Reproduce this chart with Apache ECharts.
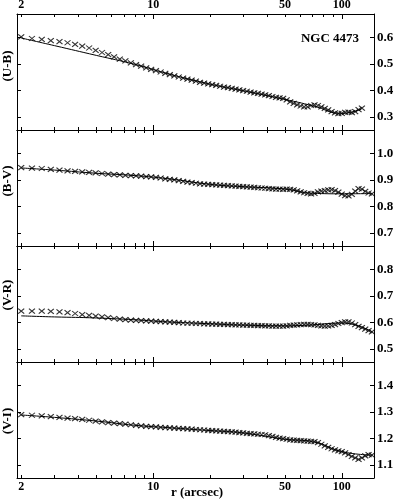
<!DOCTYPE html>
<html>
<head>
<meta charset="utf-8">
<script src="https://cdn.jsdelivr.net/npm/echarts@6/dist/echarts.min.js"></script>
<style>html,body{margin:0;padding:0;background:#fff}#c{width:397px;height:500px}</style>
</head>
<body>
<div id="c"></div>
<script>
// radii (arcsec) of the measured points
const rGrid = [2.00,2.28,2.57,2.87,3.19,3.52,3.86,4.21,4.58,4.96,5.36,5.78,6.21,6.66,7.13,7.62,8.12,8.64,9.19,9.76,
10.35,10.96,11.60,12.26,12.95,13.67,14.42,15.20,16.01,16.85,17.72,18.63,19.58,20.56,21.58,22.64,23.75,24.90,26.10,27.34,
28.63,29.98,31.38,32.84,34.35,35.92,37.56,39.26,41.03,42.87,44.78,46.77,48.84,50.99,53.23,55.56,57.98,60.50,63.12,65.84,
68.67,71.62,74.68,77.87,81.18,84.63,88.22,91.95,95.83,99.86,104.05,108.41,112.95,117.67,122.58,127.68,132.99,138.51,144.25];

const ubVals = [0.603,0.597,0.594,0.589,0.585,0.581,0.575,0.568,0.561,0.552,0.544,0.536,0.527,0.519,0.512,0.505,0.498,0.492,0.486,0.480,
0.475,0.470,0.465,0.460,0.455,0.451,0.447,0.443,0.439,0.435,0.431,0.428,0.425,0.422,0.419,0.416,0.413,0.411,0.408,0.405,
0.402,0.399,0.397,0.394,0.391,0.389,0.386,0.383,0.380,0.377,0.374,0.372,0.370,0.364,0.357,0.351,0.345,0.341,0.338,0.338,
0.343,0.345,0.343,0.338,0.332,0.326,0.320,0.315,0.312,0.313,0.317,0.318,0.316,0.320,0.327,0.333];

const bvVals = [0.947,0.945,0.944,0.941,0.938,0.935,0.933,0.931,0.929,0.927,0.925,0.923,0.921,0.920,0.918,0.917,0.916,0.915,0.913,0.912,
0.910,0.908,0.905,0.903,0.901,0.898,0.895,0.892,0.890,0.888,0.886,0.885,0.884,0.883,0.882,0.881,0.880,0.879,0.878,0.877,
0.876,0.875,0.874,0.873,0.872,0.871,0.870,0.869,0.868,0.867,0.866,0.866,0.865,0.866,0.865,0.863,0.859,0.855,0.852,0.850,
0.848,0.850,0.855,0.858,0.860,0.863,0.864,0.860,0.854,0.847,0.841,0.840,0.846,0.858,0.868,0.866,0.857,0.851,0.848];

const vrVals = [0.643,0.643,0.643,0.642,0.640,0.637,0.634,0.630,0.627,0.624,0.621,0.618,0.615,0.613,0.611,0.609,0.608,0.607,0.606,0.605,
0.604,0.603,0.602,0.601,0.600,0.599,0.598,0.597,0.597,0.596,0.596,0.595,0.595,0.594,0.594,0.593,0.593,0.592,0.592,0.591,
0.591,0.590,0.590,0.589,0.589,0.588,0.588,0.587,0.587,0.586,0.586,0.586,0.586,0.587,0.589,0.590,0.591,0.592,0.593,0.593,
0.592,0.591,0.589,0.587,0.586,0.587,0.589,0.592,0.596,0.599,0.602,0.602,0.598,0.592,0.585,0.580,0.575,0.569,0.564];

const viVals = [1.290,1.288,1.286,1.283,1.280,1.277,1.275,1.272,1.269,1.266,1.263,1.260,1.258,1.256,1.254,1.252,1.250,1.248,1.246,1.245,
1.244,1.242,1.241,1.240,1.239,1.238,1.237,1.236,1.235,1.234,1.233,1.232,1.231,1.230,1.229,1.228,1.227,1.226,1.225,1.224,
1.222,1.221,1.219,1.218,1.217,1.216,1.215,1.214,1.211,1.208,1.204,1.201,1.199,1.197,1.195,1.194,1.193,1.192,1.191,1.190,
1.189,1.188,1.184,1.178,1.172,1.166,1.161,1.157,1.153,1.150,1.145,1.139,1.132,1.126,1.121,1.126,1.134,1.139,1.137];

// fitted profile curves
const ubFitR = [2,3,5,8,12,20,30,50,70,100,127];
const ubFit  = [0.599,0.570,0.533,0.499,0.463,0.424,0.399,0.366,0.342,0.313,0.330];
const fitR   = [2,3,5,8,12,20,30,50,70,100,145];
const bvFit  = [0.946,0.938,0.926,0.917,0.905,0.884,0.875,0.866,0.850,0.848,0.849];
const vrFit  = [0.625,0.621,0.617,0.610,0.602,0.595,0.590,0.587,0.591,0.598,0.564];
const viFit  = [1.289,1.280,1.266,1.250,1.241,1.230,1.221,1.197,1.188,1.150,1.137];

const panelNames = ['(U-B)','(B-V)','(V-R)','(V-I)'];
const yRanges = [[0.25,0.69],[0.65,1.09],[0.45,0.89],[1.05,1.49]];
const yTicks = [[0.3,0.4,0.5,0.6],[0.7,0.8,0.9,1.0],[0.5,0.6,0.7,0.8],[1.1,1.2,1.3,1.4]];
const xMinorTicks = [2,3,4,5,6,7,8,9,20,30,40,50,60,70,80,90];
const xMajorTicks = [10,100];
const xTickLabels = [2,10,50,100];
const xRange = [1.9,148];
const titleText = 'NGC 4473';
const xName = 'r (arcsec)';

const dataSets = [
  {vals: ubVals, fr: ubFitR, fv: ubFit},
  {vals: bvVals, fr: fitR, fv: bvFit},
  {vals: vrVals, fr: fitR, fv: vrFit},
  {vals: viVals, fr: fitR, fv: viFit}
];

const FONT = 'Liberation Serif';
const L = Math.log10;
const gridTop = [14,130,246,362];
const gridH = 116;
const grids = [], xAxes = [], yAxes = [], series = [];
const lineStyle = {color:'#000', width:1};

for (let p = 0; p < 4; p++) {
  grids.push({left:17, right:23, top:gridTop[p], height:gridH, outerBoundsMode:'none'});
  const base = {gridIndex:p, splitLine:{show:false}};
  // data axis (log scale)
  xAxes.push(Object.assign({}, base, {type:'log', logBase:10, min:xRange[0], max:xRange[1], show:false}));
  const tickAxis = (pos, vals, len, labels, showLine) => Object.assign({}, base, {
    type:'value', position:pos, min:L(xRange[0]), max:L(xRange[1]),
    axisLine:{show:showLine, onZero:false, lineStyle:lineStyle},
    axisTick:{show:true, inside:true, length:len, customValues:vals.map(L), lineStyle:lineStyle},
    axisLabel: labels ? {show:true, customValues:xTickLabels.map(L), margin:3,
      formatter:v => String(Math.round(Math.pow(10,v))),
      fontFamily:FONT, fontWeight:'bold', fontSize:12, color:'#000'} : {show:false}
  });
  xAxes.push(tickAxis('bottom', xMinorTicks, 3, false, true));
  xAxes.push(tickAxis('bottom', xMajorTicks, 5, p === 3, false));
  xAxes.push(tickAxis('top', xMinorTicks, 3, false, true));
  xAxes.push(tickAxis('top', xMajorTicks, 5, p === 0, false));
  const yBase = {type:'value', gridIndex:p, min:yRanges[p][0], max:yRanges[p][1], splitLine:{show:false},
    axisLine:{show:true, onZero:false, lineStyle:lineStyle},
    axisTick:{show:true, inside:true, length:4, customValues:yTicks[p], lineStyle:lineStyle}};
  yAxes.push(Object.assign({}, yBase, {position:'right',
    axisLabel:{show:true, customValues:yTicks[p], margin:3, formatter:v => v.toFixed(1),
      fontFamily:FONT, fontWeight:'bold', fontSize:13, color:'#000'}}));
  yAxes.push(Object.assign({}, yBase, {position:'left', axisLabel:{show:false}}));

  const ds = dataSets[p];
  series.push({type:'scatter', xAxisIndex:p*5, yAxisIndex:p*2,
    data: ds.vals.map((v,i) => [rGrid[i], v]),
    symbol:'path://M0,0L10,10M10,0L0,10', symbolSize:[6,5],
    itemStyle:{color:'none', borderColor:'#000', borderWidth:1.1},
    silent:true, animation:false});
  series.push({type:'line', xAxisIndex:p*5, yAxisIndex:p*2,
    data: ds.fr.map((r,i) => [r, ds.fv[i]]), smooth:true, showSymbol:false, symbol:'none',
    lineStyle:{color:'#000', width:1}, silent:true, animation:false});
}

const nameY = [66,181,295,421];
const graphics = panelNames.map((n,i) => ({type:'text', x:8, y:nameY[i], rotation:Math.PI/2,
  style:{text:n, fontFamily:FONT, fontWeight:'bold', fontSize:13, fill:'#000', align:'center', verticalAlign:'middle'}}));
graphics.push({type:'text', x:330, y:39, style:{text:titleText, fontFamily:FONT, fontWeight:'bold', fontSize:13, fill:'#000', align:'center', verticalAlign:'middle'}});
graphics.push({type:'text', x:197, y:493, style:{text:xName, fontFamily:FONT, fontWeight:'bold', fontSize:13, fill:'#000', align:'center', verticalAlign:'middle'}});

const chart = echarts.init(document.getElementById('c'), null, {renderer:'canvas'});
chart.setOption({
  animation:false,
  backgroundColor:'#fff',
  grid:grids, xAxis:xAxes, yAxis:yAxes, series:series, graphic:graphics
});
</script>
</body>
</html>
